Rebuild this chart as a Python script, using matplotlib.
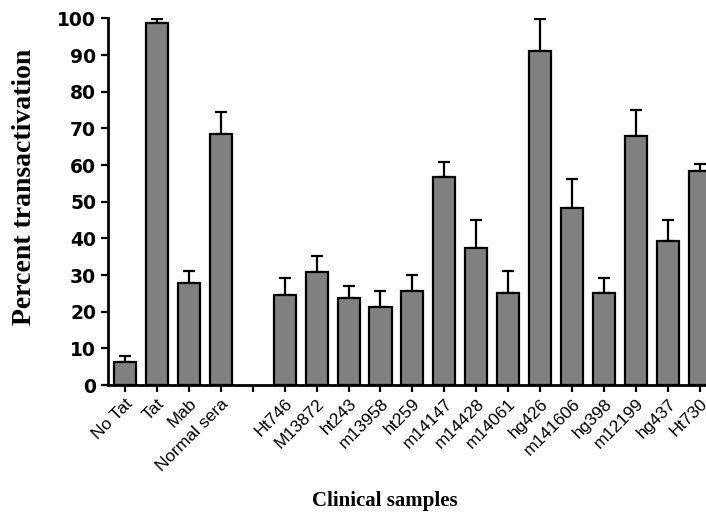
import matplotlib.pyplot as plt
import numpy as np

# Percent transactivation per sample (mean and upper error)
labels = ["No Tat", "Tat", "Mab", "Normal sera", "",
          "Ht746", "M13872", "ht243", "m13958", "ht259", "m14147", "m14428",
          "m14061", "hg426", "m141606", "hg398", "m12199", "hg437", "Ht730"]
means = [6.2, 98.8, 27.7, 68.6, np.nan,
         24.5, 30.9, 23.8, 21.4, 25.6, 56.8, 37.3,
         25.0, 91.1, 48.3, 25.0, 67.9, 39.4, 58.4]
errors = [1.7, 1.1, 3.5, 5.8, np.nan,
          4.6, 4.3, 3.3, 4.3, 4.3, 4.1, 7.7,
          6.2, 8.7, 7.8, 4.1, 7.1, 5.6, 1.8]

x = np.arange(len(labels))

fig = plt.figure(figsize=(7.06, 5.12), dpi=100)
ax = fig.add_axes([0.153, 0.248, 0.847, 0.716])

ax.bar(x, means, width=0.69, color="#808080", edgecolor="black", linewidth=1.6,
       zorder=2)
ax.errorbar(x, means, yerr=[np.zeros(len(x)), errors], fmt="none",
            ecolor="black", elinewidth=1.6, capsize=4, capthick=1.6, zorder=1)

ax.set_xlim(-0.53, 18.19)
ax.set_ylim(0, 100)
ax.set_yticks(np.arange(0, 101, 10))
ax.set_xticks(x)
ax.set_xticklabels(labels, rotation=45, ha="right", rotation_mode="anchor",
                   fontsize=12.5, family="Liberation Sans")
for t in ax.get_yticklabels():
    t.set_fontweight("bold")
    t.set_fontsize(13.5)
    t.set_family("DejaVu Sans")

for side in ["top", "right"]:
    ax.spines[side].set_visible(False)
for side in ["left", "bottom"]:
    ax.spines[side].set_linewidth(2)
ax.tick_params(axis="both", width=1.6, length=5, direction="out")
ax.tick_params(axis="x", pad=3)

fig.text(25 / 706, 1 - 187 / 512, "Percent transactivation", fontsize=20,
         fontweight="bold", family="Liberation Serif", rotation=90,
         ha="center", va="center")
fig.text(385 / 706, 6 / 512, "Clinical samples", fontsize=15,
         fontweight="bold", family="Liberation Serif", ha="center",
         va="baseline")

fig.savefig("out.png", dpi=100)
